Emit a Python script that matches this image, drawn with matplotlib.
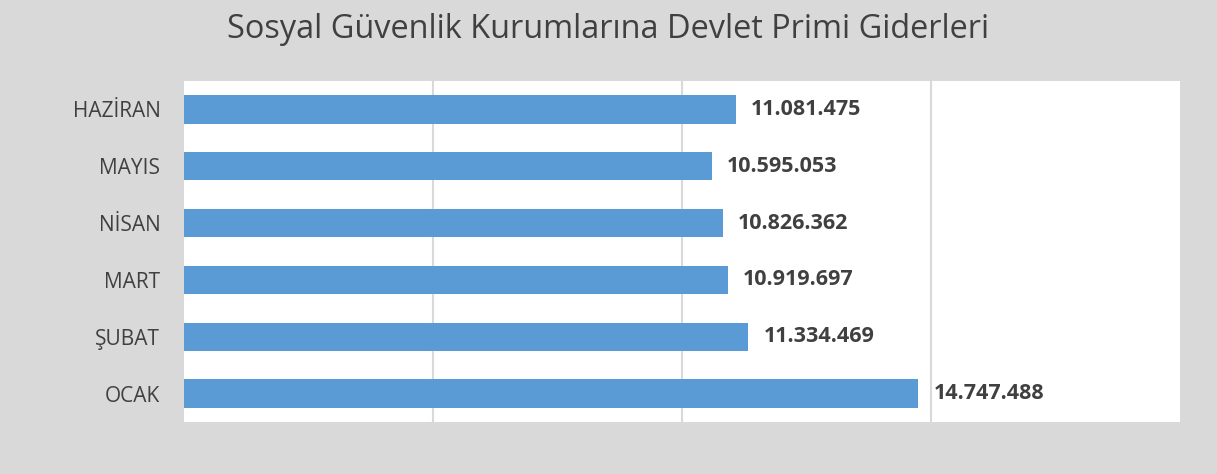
import matplotlib.pyplot as plt

# Veriler
aylar = ['OCAK', 'ŞUBAT', 'MART', 'NİSAN', 'MAYIS', 'HAZİRAN']
giderler = [14747488, 11334469, 10919697, 10826362, 10595053, 11081475]
etiketler = ['14.747.488', '11.334.469', '10.919.697', '10.826.362', '10.595.053', '11.081.475']

plt.rcParams['font.family'] = ['Open Sans', 'DejaVu Sans']

fig = plt.figure(figsize=(12.17, 4.74), dpi=100, facecolor='#d9d9d9')
ax = fig.add_axes([0.1512, 0.1097, 0.8184, 0.7193])

ax.barh(range(len(aylar)), giderler, height=0.5, color='#5b9bd5', zorder=3)
ax.set_xlim(0, 20000000)
ax.set_ylim(-0.5, len(aylar) - 0.5)
ax.set_xticks([5000000, 10000000, 15000000])
ax.grid(axis='x', color='#d9d9d9', linewidth=1.5, zorder=0)
ax.tick_params(axis='x', length=0, labelbottom=False)
ax.tick_params(axis='y', length=0, pad=17, labelsize=15, labelcolor='#404040')
ax.set_yticks(range(len(aylar)))
ax.set_yticklabels(aylar)
for s in ax.spines.values():
    s.set_visible(False)

for i, (v, t) in enumerate(zip(giderler, etiketler)):
    ax.text(v + 300000, i, t, va='center', ha='left', fontsize=15.5,
            fontweight='bold', color='#404040')

fig.text(0.5, 0.938, 'Sosyal Güvenlik Kurumlarına Devlet Primi Giderleri',
         ha='center', va='center', fontsize=23.4, color='#404040')

fig.savefig('out.png', dpi=100, facecolor=fig.get_facecolor())
